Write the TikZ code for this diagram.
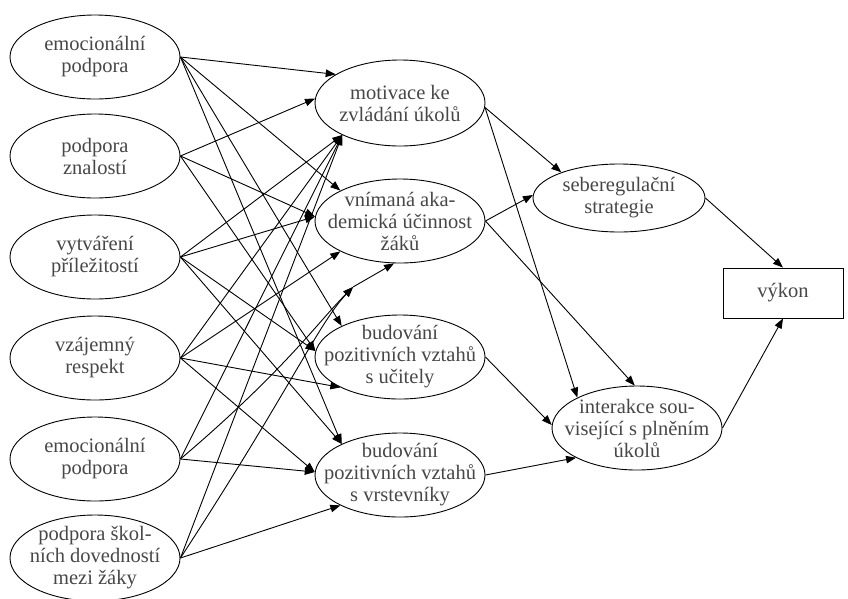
\documentclass[tikz,border=0pt]{standalone}
\usepackage{fontspec}
\setmainfont{Liberation Serif}
\usetikzlibrary{shapes.geometric,arrows.meta}
\tikzset{
  el/.style={ellipse, draw, line width=0.9pt, minimum width=170pt, minimum height=84pt, inner sep=0pt},
  txt/.style={align=center, text=black!72, font=\fontsize{20.5}{22}\selectfont, inner sep=0pt},
  edge/.style={line width=0.9pt, -{Triangle[length=10pt,width=7.5pt]}},
  boxnode/.style={draw, line width=0.9pt, minimum width=120pt, minimum height=50pt, inner sep=0pt}
}
\begin{document}
\begin{tikzpicture}[x=1pt,y=-1pt]
\useasboundingbox (0,0) rectangle (848,598);
% left column
\node[el] (L1) at (95,57) {};
\node[txt] (L1t) at (L1) {emocionální\\podpora};
\node[el] (L2) at (95,156) {};
\node[txt] (L2t) at (L2) {podpora\\znalostí};
\node[el] (L3) at (95,257) {};
\node[txt] (L3t) at (L3) {vytváření\\příležitostí};
\node[el] (L4) at (95,358) {};
\node[txt] (L4t) at (L4) {vzájemný\\respekt};
\node[el] (L5) at (95,459) {};
\node[txt] (L5t) at (L5) {emocionální\\podpora};
\node[el, minimum height=86pt] (L6) at (95,558) {};
\node[txt] (L6t) at (L6) {podpora škol-\\ních dovedností\\mezi žáky};
% middle column
\node[el, minimum height=86pt] (M1) at (400,103) {};
\node[txt] (M1t) at (M1) {motivace ke\\zvládání úkolů};
\node[el] (M2) at (400,221) {};
\node[txt] (M2t) at (M2) {vnímaná aka-\\demická účinnost\\žáků};
\node[el] (M3) at (400,357) {};
\node[txt] (M3t) at (M3) {budování\\pozitivních vztahů\\s učitely};
\node[el] (M4) at (400,475) {};
\node[txt] (M4t) at (M4) {budování\\pozitivních vztahů\\s vrstevníky};
% right column
\node[el, minimum width=172pt, minimum height=68pt] (R1) at (619,198) {};
\node[txt] (R1t) at (R1) {seberegulační\\strategie};
\node[el] (R2) at (637,428) {};
\node[txt] (R2t) at (R2) {interakce sou-\\visející s plněním\\úkolů};
\node[boxnode] (V) at (783,293) {};
\node[txt] (Vt) at (V) {výkon};
% merge point of concentrated edges
\coordinate (J) at (353,287);
% left -> middle
\draw[edge] (L1.east) -- (M1.156);
\draw[edge] (L1.east) -- (M2.153);
\draw[edge] (L1.east) -- (M3.152);
\draw[edge] (L1.east) -- (M4.152);
\draw[edge] (L2.east) -- (M1.177);
\draw[edge] (L2.east) -- (M2.177);
\draw[edge] (L2.east) -- (M3.176);
\draw[edge] (L3.east) -- (M1.209);
\draw[edge] (L3.east) -- (M2.177);
\draw[edge] (L3.east) -- (M3.176);
\draw[edge] (L3.east) -- (M4.152);
\draw[edge] (L4.east) -- (M1.209);
\draw[edge] (L4.east) -- (M2.207);
\draw[edge] (L4.east) -- (M3.207);
\draw[edge] (L4.east) -- (M4.178);
\draw[edge] (L5.east) -- (M1.209);
\draw[edge] (L5.east) .. controls (285,370) and (318,322) .. (J);
\draw[edge] (L5.east) -- (M4.178);
\draw[edge] (L6.east) -- (M1.209);
\draw[edge] (L6.east) .. controls (290,390) and (318,324) .. (J);
\draw[edge] (L6.east) -- (M4.207);
\draw[edge] (J) -- (M2.262);
% middle -> right
\draw[edge] (M1.-3) -- (R1.156);
\draw[edge] (M1.-3) -- (R2.153);
\draw[edge] (M2.east) -- (R1.178);
\draw[edge] (M2.east) -- (R2.93);
\draw[edge] (M3.east) -- (R2.178);
\draw[edge] (M4.east) -- (R2.206);
\draw[edge] (R1.east) -- (V.north);
\draw[edge] (R2.east) -- (V.south);
\end{tikzpicture}
\end{document}
